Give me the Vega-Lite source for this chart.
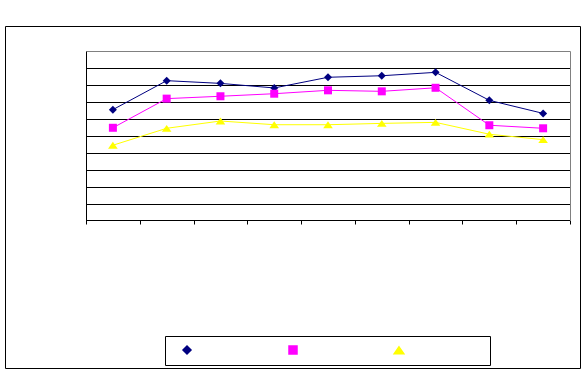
{
  "$schema": "https://vega.github.io/schema/vega-lite/v6.json",
  "width": 575,
  "height": 342,
  "autosize": {"type": "none"},
  "padding": {"left": 5, "top": 26, "right": 3, "bottom": 1},
  "background": "white",
  "config": {
    "view": {"stroke": "black", "strokeWidth": 1},
    "font": "Liberation Sans",
    "legend": {
      "orient": "none",
      "legendX": 160,
      "legendY": 310,
      "direction": "horizontal",
      "strokeColor": "black",
      "fillColor": "white",
      "padding": 8,
      "symbolSize": 64,
      "symbolOffset": 8,
      "labelFontSize": 12,
      "labelOpacity": 0,
      "labelOffset": 36,
      "columnPadding": 9
    }
  },
  "data": {
    "values": [
      {"cat": "1", "series": "Series1", "value": 6.54},
      {"cat": "2", "series": "Series1", "value": 8.25},
      {"cat": "3", "series": "Series1", "value": 8.09},
      {"cat": "4", "series": "Series1", "value": 7.82},
      {"cat": "5", "series": "Series1", "value": 8.45},
      {"cat": "6", "series": "Series1", "value": 8.54},
      {"cat": "7", "series": "Series1", "value": 8.74},
      {"cat": "8", "series": "Series1", "value": 7.09},
      {"cat": "9", "series": "Series1", "value": 6.32},
      {"cat": "1", "series": "Series2", "value": 5.47},
      {"cat": "2", "series": "Series2", "value": 7.19},
      {"cat": "3", "series": "Series2", "value": 7.33},
      {"cat": "4", "series": "Series2", "value": 7.48},
      {"cat": "5", "series": "Series2", "value": 7.68},
      {"cat": "6", "series": "Series2", "value": 7.62},
      {"cat": "7", "series": "Series2", "value": 7.83},
      {"cat": "8", "series": "Series2", "value": 5.62},
      {"cat": "9", "series": "Series2", "value": 5.44},
      {"cat": "1", "series": "Series3", "value": 4.44},
      {"cat": "2", "series": "Series3", "value": 5.44},
      {"cat": "3", "series": "Series3", "value": 5.87},
      {"cat": "4", "series": "Series3", "value": 5.65},
      {"cat": "5", "series": "Series3", "value": 5.65},
      {"cat": "6", "series": "Series3", "value": 5.73},
      {"cat": "7", "series": "Series3", "value": 5.79},
      {"cat": "8", "series": "Series3", "value": 5.09},
      {"cat": "9", "series": "Series3", "value": 4.77}
    ]
  },
  "encoding": {
    "x": {
      "field": "cat",
      "type": "ordinal",
      "bandPosition": 0.5,
      "scale": {"type": "band", "paddingInner": 0, "paddingOuter": 0, "range": [81, 565]},
      "axis": {
        "orient": "bottom",
        "offset": -148,
        "title": null,
        "labels": false,
        "ticks": true,
        "tickBand": "extent",
        "tickSize": 4,
        "tickColor": "black",
        "domainColor": "black",
        "domainWidth": 1,
        "grid": false
      }
    },
    "color": {
      "field": "series",
      "type": "nominal",
      "scale": {"domain": ["Series1", "Series2", "Series3"], "range": ["#000080", "#FF00FF", "#FFFF00"]},
      "legend": {"title": null}
    }
  },
  "layer": [
    {
      "mark": {"type": "line", "strokeWidth": 1},
      "encoding": {
        "y": {
          "field": "value",
          "type": "quantitative",
          "scale": {"domain": [0, 10], "range": [194.5, 25], "nice": false},
          "axis": {
            "orient": "left",
            "offset": -81,
            "title": null,
            "labels": false,
            "ticks": false,
            "domainColor": "black",
            "values": [1, 2, 3, 4, 5, 6, 7, 8, 9, 10],
            "grid": true,
            "gridColor": {"condition": {"test": "datum.value === 10", "value": "#808080"}, "value": "black"},
            "gridOpacity": 1,
            "gridWidth": 1
          }
        }
      }
    },
    {
      "mark": {"type": "point", "filled": true, "size": 64, "opacity": 1},
      "encoding": {
        "y": {
          "field": "value",
          "type": "quantitative",
          "scale": {"domain": [0, 10], "range": [194.5, 25], "nice": false},
          "axis": {
            "orient": "right",
            "offset": -10,
            "title": null,
            "labels": false,
            "ticks": false,
            "grid": false,
            "domainColor": "#808080"
          }
        },
        "shape": {
          "field": "series",
          "type": "nominal",
          "scale": {"domain": ["Series1", "Series2", "Series3"], "range": ["diamond", "square", "M0,-0.85L1.2,0.85H-1.2Z"]},
          "legend": null
        }
      }
    }
  ],
  "resolve": {"axis": {"y": "independent"}}
}
